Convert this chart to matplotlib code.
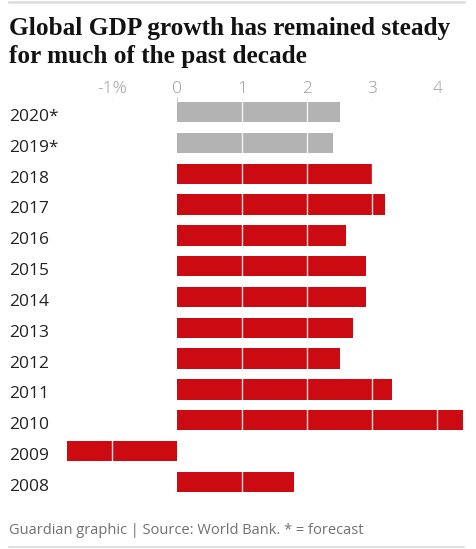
import numpy as np
import matplotlib.pyplot as plt
from matplotlib.lines import Line2D

years = ["2020*", "2019*", "2018", "2017", "2016", "2015", "2014",
         "2013", "2012", "2011", "2010", "2009", "2008"]
growth = [2.5, 2.4, 3.0, 3.2, 2.6, 2.9, 2.9, 2.7, 2.5, 3.3, 4.4, -1.7, 1.8]
forecast = [True, True] + [False] * 11
tick_vals = [-1, 0, 1, 2, 3, 4]
tick_labels = ["-1%", "0", "1", "2", "3", "4"]
title_lines = ["Global GDP growth has remained steady", "for much of the past decade"]

W, H = 477, 549
fig = plt.figure(figsize=(W / 100, H / 100), dpi=100)

# axes placed in pixel terms
left, right, top, bottom = 47.3, 463.3, 96.6, 497.4
ax = fig.add_axes([left / W, 1 - bottom / H, (right - left) / W, (bottom - top) / H])

y = np.arange(len(years))
colors = ["#b3b3b3" if f else "#cc0a11" for f in forecast]
ax.barh(y, growth, height=0.66, color=colors, zorder=2)

# thin white gridlines running over the bars
for v in tick_vals:
    if v != 0:
        ax.axvline(v, color="white", lw=1.0, alpha=0.85, zorder=3)

ax.set_xlim(-2.0, 4.4)
ax.set_ylim(len(years) - 0.5, -0.5)
ax.xaxis.tick_top()
ax.set_xticks(tick_vals)
ax.set_xticklabels(tick_labels)
ax.tick_params(axis="x", direction="in", length=3, width=0.8, color="#cccccc",
               pad=0, labelsize=12.5, labelcolor="#9a9a9a")
for lab in ax.get_xticklabels():
    lab.set_fontfamily("Open Sans")
    lab.set_fontweight("light")
ax.set_yticks([])
for s in ax.spines.values():
    s.set_visible(False)

# year labels at left edge of figure (baseline sits a little below bar centre)
for i, yr in enumerate(years):
    fig.text(9 / W, 1 - (121 + 30.83 * i) / H, yr, ha="left", va="baseline",
             fontsize=12.5, color="#222222", family="Open Sans")

# title, one text per line
for i, line in enumerate(title_lines):
    fig.text(9 / W, 1 - (35 + 28 * i) / H, line, ha="left", va="baseline",
             fontsize=18.2, fontweight="bold", family="Liberation Serif",
             color="#121212")

# footer
fig.text(9 / W, 1 - 530 / H, "Guardian graphic | Source: World Bank. * = forecast",
         ha="left", va="center", fontsize=10.5, color="#707070", family="Open Sans")

# top and bottom rules
fig.add_artist(Line2D([9 / W, 464 / W], [1 - 1.5 / H] * 2, color="#dcdcdc", lw=1.8))
fig.add_artist(Line2D([9 / W, 464 / W], [1 - 546.5 / H] * 2, color="#dcdcdc", lw=1.2))

fig.savefig("out.png", dpi=100)
